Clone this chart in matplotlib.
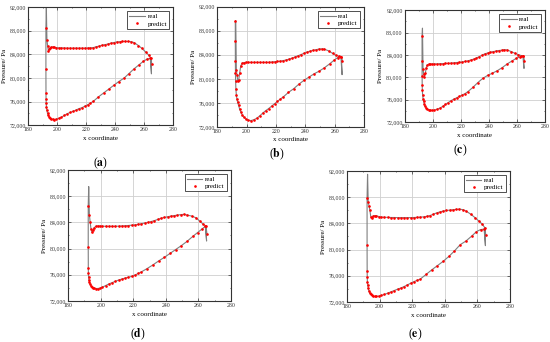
import matplotlib
matplotlib.use("Agg")
import matplotlib.pyplot as plt
from matplotlib.ticker import MultipleLocator, AutoMinorLocator, FuncFormatter

plt.rcParams['font.family'] = ['Liberation Serif', 'DejaVu Serif']
plt.rcParams['mathtext.fontset'] = 'stix'

# shared blade-surface x coordinates
x_up = [193.0, 193.5, 194.0, 194.6, 195.3, 196.0, 197.0, 198.0, 199.5, 201, 203, 205, 207, 209,
        211, 213, 215, 217, 219, 221, 223, 225, 227, 229, 231, 233, 235, 237, 239, 241, 243,
        245, 247, 249, 251, 253, 256, 258.5, 261, 263, 264.6, 265.2]
x_lo = [192.3, 192.3, 192.35, 192.4, 192.5, 192.7, 193.0, 193.4, 193.9, 194.5, 195.2, 196.0,
        197.0, 198.0, 199.5, 201, 203, 205, 207, 209, 211, 213, 215, 217, 219, 221, 223, 225,
        228.5, 232, 235.5, 239, 242.5, 246, 249.5, 253, 256.5, 259.5, 262, 264.2]
x_peak = 192.6
x_dip = 265.0

# (a)
up_a = [86500, 85400, 84600, 84900, 85150, 85250, 85250, 85200, 85150, 85100, 85100, 85080, 85050, 85050,
        85050, 85050, 85050, 85050, 85050, 85080, 85100, 85150, 85300, 85400, 85550, 85650, 85750, 85900,
        86000, 86100, 86150, 86200, 86200, 86200, 86150, 86000, 85500, 85000, 84400, 83900, 83400, 82400]
lo_a = [88500, 81500, 77500, 76500, 75700, 75000, 74500, 74000, 73700, 73450, 73250, 73100, 73000, 72950,
        73000, 73150, 73350, 73650, 73950, 74150, 74350, 74550, 74800, 74950, 75200, 75450, 75750, 76050,
        76800, 77450, 78100, 78750, 79400, 79950, 80750, 81550, 82250, 82850, 83200, 83350]
peak_a = 91900
dip_a = 80700

# (b)
up_b = [81500, 80600, 79600, 79800, 81000, 82200, 82600, 82700, 82750, 82750, 82750, 82750, 82750, 82750,
        82750, 82750, 82750, 82800, 82850, 82900, 82950, 83050, 83150, 83300, 83450, 83650, 83850, 84050,
        84250, 84450, 84600, 84750, 84850, 84950, 85000, 84950, 84650, 84250, 83900, 83750, 83650, 82900]
lo_b = [89600, 86300, 82900, 81000, 79700, 78300, 77300, 76600, 76100, 75600, 75000, 74500, 74000, 73650,
        73300, 73100, 73050, 73200, 73450, 73850, 74300, 74700, 75050, 75450, 75850, 76250, 76650, 77000,
        77750, 78350, 79100, 79750, 80300, 80850, 81300, 81850, 82500, 83100, 83550, 83700]
peak_b = 89700
dip_b = 80700

# (c)
up_c = [81500, 80600, 80100, 80700, 81700, 82200, 82350, 82400, 82400, 82400, 82400, 82450, 82450, 82500,
        82500, 82550, 82600, 82650, 82700, 82750, 82850, 82950, 83100, 83250, 83450, 83700, 83950, 84200,
        84350, 84500, 84600, 84700, 84800, 84850, 84950, 84900, 84600, 84300, 84050, 83900, 83850, 82900]
lo_c = [87450, 82900, 80300, 78600, 77700, 76900, 76200, 75700, 75200, 74800, 74550, 74350, 74200, 74120,
        74090, 74150, 74300, 74500, 74800, 75150, 75500, 75850, 76100, 76350, 76600, 76850, 77100, 77450,
        78200, 79050, 79800, 80350, 80750, 81200, 81750, 82400, 82950, 83400, 83650, 83850]
peak_c = 88800
dip_c = 81600

# (d)
up_d = [85200, 84000, 83000, 82500, 82800, 83200, 83400, 83450, 83450, 83420, 83400, 83400, 83400, 83400,
        83420, 83450, 83480, 83520, 83570, 83620, 83700, 83800, 83900, 84000, 84130, 84270, 84450, 84630,
        84750, 84850, 84950, 85030, 85100, 85180, 85220, 85120, 84950, 84700, 84150, 83700, 83450, 82300]
lo_d = [86550, 80300, 77100, 76300, 75700, 75200, 74900, 74600, 74350, 74150, 74000, 73930, 73900, 73900,
        73950, 74100, 74350, 74600, 74800, 75000, 75200, 75350, 75500, 75630, 75750, 75950, 76200, 76450,
        76950, 77500, 78100, 78650, 79250, 79850, 80450, 81100, 81850, 82450, 82950, 83400]
peak_d = 89460
dip_d = 81150

# (e)
up_e = [87200, 86700, 86000, 85000, 84900, 85100, 85200, 85150, 85050, 84970, 84930, 84920, 84900, 84900,
        84880, 84880, 84880, 84880, 84880, 84900, 84920, 84950, 85000, 85070, 85200, 85400, 85600, 85750,
        85880, 85970, 86020, 86080, 86130, 86180, 86100, 85900, 85400, 84900, 84350, 83900, 83350, 82300]
lo_e = [87900, 80700, 76800, 75800, 75000, 74600, 74100, 73700, 73400, 73150, 73000, 72900, 72850, 72850,
        72900, 73000, 73150, 73350, 73550, 73750, 73950, 74130, 74350, 74600, 74850, 75100, 75300, 75500,
        76200, 76900, 77550, 78200, 78950, 79800, 80750, 81300, 82050, 82750, 83050, 83130]
peak_e = 91500
dip_e = 80600

panels = [
    ("a", up_a, lo_a, peak_a, dip_a, [0.051, 0.634, 0.264, 0.345], (0.182, 0.523)),
    ("b", up_b, lo_b, peak_b, dip_b, [0.395, 0.629, 0.267, 0.351], (0.504, 0.548)),
    ("c", up_c, lo_c, peak_c, dip_c, [0.736, 0.643, 0.255, 0.327], (0.836, 0.560)),
    ("d", up_d, lo_d, peak_d, dip_d, [0.124, 0.120, 0.296, 0.383], (0.251, 0.023)),
    ("e", up_e, lo_e, peak_e, dip_e, [0.631, 0.117, 0.296, 0.383], (0.755, 0.023)),
]

fig = plt.figure(figsize=(5.5, 3.42), dpi=100)
fmt = FuncFormatter(lambda v, p: f"{int(v):,}")

for name, up, lo, peak, dip, rect, cap in panels:
    ax = fig.add_axes(rect)
    # real curve: upper (TE -> LE), LE spike, lower (LE -> TE), TE dip, close
    rx = x_up[::-1] + [x_peak] + x_lo + [x_dip, x_up[-2]]
    ry = up[::-1] + [peak] + lo + [dip, up[-2]]
    ax.plot(rx, ry, color='#7f7f7f', lw=0.8, label='real', zorder=2)
    ax.plot(x_up + x_lo, up + lo, linestyle='none', marker='o', ms=1.9,
            mfc='#ff0000', mec='#ff0000', mew=0, label='predict', zorder=3)
    ax.set_xlim(180, 280)
    ax.set_ylim(72000, 92000)
    ax.xaxis.set_major_locator(MultipleLocator(20))
    ax.yaxis.set_major_locator(MultipleLocator(4000))
    ax.xaxis.set_minor_locator(AutoMinorLocator(2))
    ax.yaxis.set_minor_locator(AutoMinorLocator(2))
    ax.yaxis.set_major_formatter(fmt)
    ax.grid(True, which='major', color='#cfcfcf', lw=0.6)
    ax.set_axisbelow(True)
    ax.tick_params(which='both', direction='in', top=True, right=True, labelsize=4.2,
                   colors='#333333', width=0.5, pad=1.5)
    ax.tick_params(which='major', length=2)
    ax.tick_params(which='minor', length=1)
    for s in ax.spines.values():
        s.set_linewidth(0.8)
        s.set_color('#333333')
    ax.set_xlabel('x coordinate', fontsize=5, labelpad=2.5)
    ax.set_ylabel('Pressure/ Pa', fontsize=5, labelpad=2)
    leg = ax.legend(loc='upper right', fontsize=5, frameon=True, fancybox=False,
                    edgecolor='#333333', framealpha=1, handlelength=2.2, handletextpad=0.4,
                    borderpad=0.3, labelspacing=0.2, borderaxespad=0.6, markerscale=1.0)
    leg.get_frame().set_linewidth(0.6)
    fig.text(cap[0], cap[1], '(' + r'$\mathbf{' + name + '}$' + ')', fontsize=8.5,
             ha='center', va='center')

fig.savefig('out.png', dpi=100)
